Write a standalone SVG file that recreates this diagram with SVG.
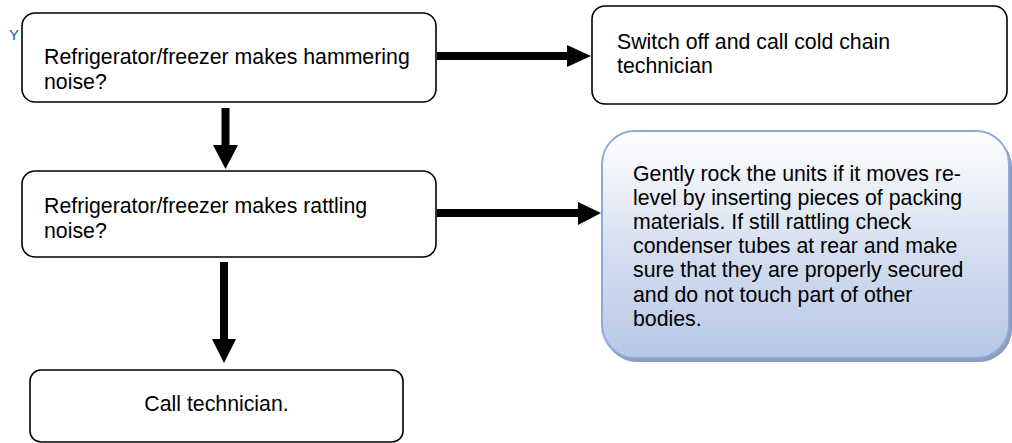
<svg xmlns="http://www.w3.org/2000/svg" width="1012" height="443" viewBox="0 0 1012 443">
  <style>
    .box { fill: #ffffff; stroke: #000000; stroke-width: 1.6; }
    .txt { font-family: "Liberation Sans", Arial, sans-serif; font-size: 21.3px; fill: #000000; }
    .flow { stroke: #000000; stroke-width: 8; fill: none; }
    .head { fill: #000000; }
  </style>
  <defs>
    <linearGradient id="blueFill" x1="0" y1="0" x2="0" y2="1">
      <stop offset="0" stop-color="#ffffff"/>
      <stop offset="0.5" stop-color="#d7e0f1"/>
      <stop offset="1" stop-color="#b6c7e6"/>
    </linearGradient>
  </defs>

  <!-- stray label partly covered by the first box -->
  <text x="9" y="40" font-family="'Liberation Sans', Arial, sans-serif" font-size="15" fill="#1f4e9a">Y</text>

  <g id="connectors">
    <!-- hammering -> switch off -->
    <line class="flow" x1="437" y1="56" x2="569" y2="56"/>
    <polygon class="head" points="567,45 591,56 567,67"/>
    <!-- hammering -> rattling -->
    <line class="flow" x1="225.5" y1="108" x2="225.5" y2="147"/>
    <polygon class="head" points="213,145 238,145 225.5,169"/>
    <!-- rattling -> rock the units -->
    <line class="flow" x1="437" y1="213" x2="580" y2="213"/>
    <polygon class="head" points="578,202 601,213 578,225"/>
    <!-- rattling -> call technician -->
    <line class="flow" x1="224" y1="262" x2="224" y2="341"/>
    <polygon class="head" points="212,339 236,339 224,363"/>
  </g>

  <g id="node-hammering">
    <rect class="box" x="22" y="13" width="414" height="89" rx="13"/>
    <text class="txt" x="44" y="63.5">Refrigerator/freezer makes hammering</text>
    <text class="txt" x="44" y="88.5">noise?</text>
  </g>

  <g id="node-switch-off">
    <rect class="box" x="592" y="6" width="415" height="98" rx="13"/>
    <text class="txt" x="617" y="48.5">Switch off and call cold chain</text>
    <text class="txt" x="617" y="72.5">technician</text>
  </g>

  <g id="node-rattling">
    <rect class="box" x="22" y="171" width="414" height="86" rx="13"/>
    <text class="txt" x="44" y="213">Refrigerator/freezer makes rattling</text>
    <text class="txt" x="44" y="238">noise?</text>
  </g>

  <g id="node-rock-units">
    <rect x="604" y="134" width="408" height="228" rx="33" fill="#8e9dbb"/>
    <rect x="602" y="131" width="407" height="227" rx="33" fill="url(#blueFill)" stroke="#8eaadb" stroke-width="2"/>
    <text class="txt" x="633" y="181">Gently rock the units if it moves re-</text>
    <text class="txt" x="633" y="205">level by inserting pieces of packing</text>
    <text class="txt" x="633" y="229">materials. If still rattling check</text>
    <text class="txt" x="633" y="253">condenser tubes at rear and make</text>
    <text class="txt" x="633" y="277">sure that they are properly secured</text>
    <text class="txt" x="633" y="302">and do not touch part of other</text>
    <text class="txt" x="633" y="326">bodies.</text>
  </g>

  <g id="node-call-technician">
    <rect class="box" x="30" y="370" width="373" height="72" rx="11"/>
    <text class="txt" x="216.5" y="411" text-anchor="middle">Call technician.</text>
  </g>
</svg>
